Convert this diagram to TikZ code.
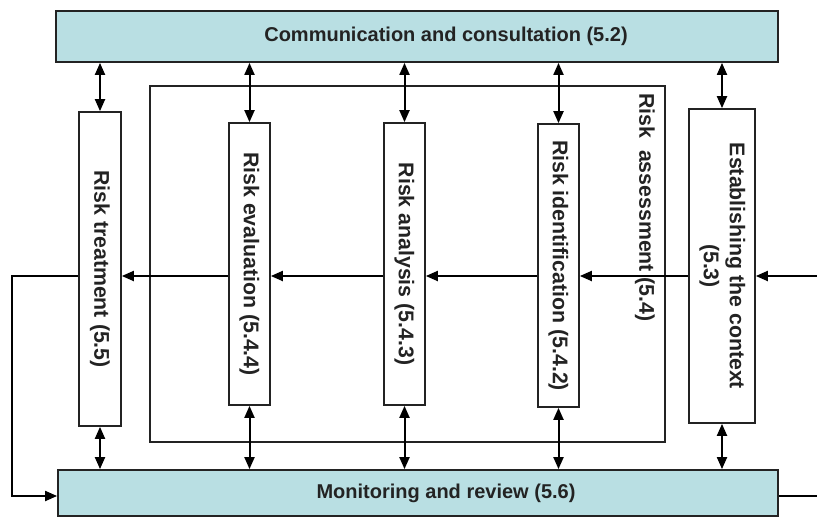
\documentclass[tikz,border=0pt]{standalone}
\usepackage{fontspec}
\setmainfont{Liberation Sans}
\usetikzlibrary{arrows.meta}
\definecolor{barfill}{RGB}{185,223,227}
\definecolor{ink}{RGB}{35,35,35}
\newcommand{\rottxt}[1]{\rotatebox{-90}{#1}}
\begin{document}
\begin{tikzpicture}[x=1pt,y=-1pt,
  bar/.style={draw=ink, line width=1.8pt, fill=barfill, inner sep=0pt, font=\fontsize{20}{24}\selectfont\bfseries, text=ink},
  stepbox/.style={draw=ink, line width=1.7pt, fill=white, inner sep=0pt, font=\fontsize{21.3}{26}\selectfont\bfseries, text=ink},
  frame/.style={draw=ink, line width=1.6pt, inner sep=0pt},
  lbl/.style={inner sep=0pt, font=\fontsize{21.3}{26}\selectfont\bfseries, text=ink},
  flow/.style={draw=black, line width=2pt, -{Triangle[length=12pt,width=10pt]}},
  both/.style={draw=black, line width=2pt, {Triangle[length=12pt,width=10pt]}-{Triangle[length=12pt,width=10pt]}},
  plain/.style={draw=black, line width=2pt}]
\useasboundingbox (0,0) rectangle (817,517);
\node[bar, minimum width=722pt, minimum height=51pt] (comm) at (417,36.5) {\hspace*{58pt}Communication and consultation (5.2)};
\node[bar, minimum width=720pt, minimum height=46pt] (mon) at (418,493) {\hspace*{56pt}Monitoring and review (5.6)};
\node[frame, minimum width=515pt, minimum height=356pt] (ra) at (407.5,264) {};
\node[lbl, rotate=-90, anchor=west] (ralabel) at (645,93) {Risk\hspace{0.556em}assessment (5.4)};
\node[stepbox, minimum width=42pt, minimum height=314pt] (treat) at (100,269) {\rottxt{Risk treatment (5.5)}};
\node[stepbox, minimum width=41pt, minimum height=282pt] (eval) at (249.5,264) {\rottxt{Risk evaluation (5.4.4)}};
\node[stepbox, minimum width=41pt, minimum height=282pt] (anal) at (404.5,264) {\rottxt{Risk analysis (5.4.3)}};
\node[stepbox, minimum width=41pt, minimum height=283pt] (ident) at (558.5,265.5) {\rottxt{Risk identification (5.4.2)}};
\node[stepbox, minimum width=66pt, minimum height=314pt] (ctx) at (722,266) {\rottxt{\raisebox{-3pt}{\begin{tabular}{@{}c@{}}Establishing the context\\(5.3)\end{tabular}}}};
\coordinate (flowy) at (0,276);
\coordinate (inR) at (817,276);
\coordinate (outR) at (817,496);
\coordinate (lp1) at (12,276);
\coordinate (lp2) at (12,496);
\draw[flow] (inR) -- (ctx.east |- inR);
\draw[flow] (ctx.west |- flowy) -- (ident.east |- flowy);
\draw[flow] (ident.west |- flowy) -- (anal.east |- flowy);
\draw[flow] (anal.west |- flowy) -- (eval.east |- flowy);
\draw[flow] (eval.west |- flowy) -- (treat.east |- flowy);
\draw[flow] (treat.west |- flowy) -- (lp1) -- (lp2) -- (mon.west |- lp2);
\draw[plain] (mon.east |- outR) -- (outR);
\foreach \n in {treat,eval,anal,ident,ctx}{
  \draw[both] (comm.south -| \n.north) -- (\n.north);
  \draw[both] (\n.south) -- (\n.south |- mon.north);
}
\end{tikzpicture}
\end{document}
